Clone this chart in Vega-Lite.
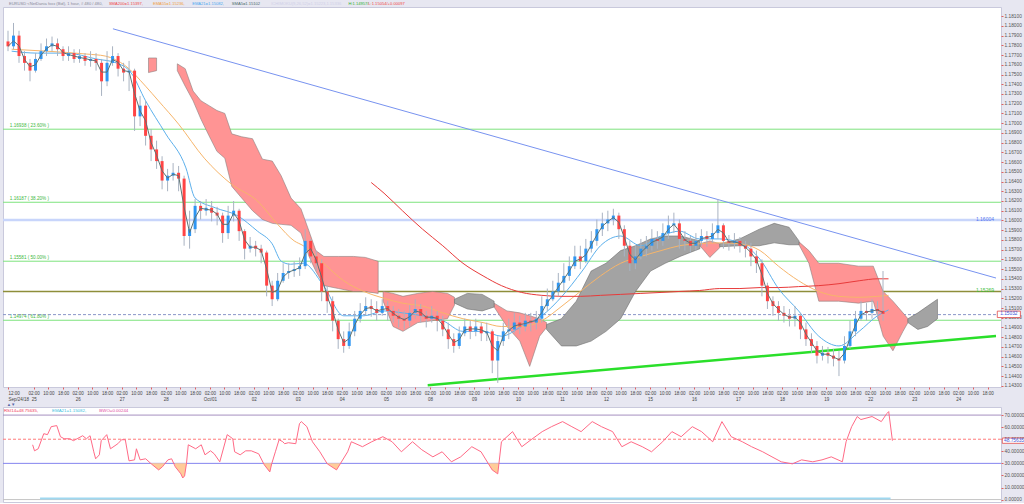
{
"$schema": "https://vega.github.io/schema/vega-lite/v6.json",
"background": "#e7e7f1",
"padding": {"left": 1, "top": 1, "right": 0, "bottom": 0},
"spacing": 0,
"config": {"view": {"fill": "white", "stroke": "#c9c9dc", "strokeWidth": 1}, "font": "Liberation Sans", "axis": {"labelFont": "Liberation Sans", "grid": false, "domain": false, "title": null, "labelOverlap": false, "labelBound": false, "tickCount": 500}},
"datasets": {
"candles": [
{"t":0,"o":1.1784,"h":1.1795,"l":1.1774,"c":1.1779},{"t":3,"o":1.1779,"h":1.1803,"l":1.1776,"c":1.1790},{"t":6,"o":1.1790,"h":1.1795,"l":1.1762,"c":1.1769},{"t":9,"o":1.1769,"h":1.1774,"l":1.1754,"c":1.1762},{"t":12,"o":1.1762,"h":1.1766,"l":1.1743,"c":1.1754},{"t":15,"o":1.1754,"h":1.1772,"l":1.1752,"c":1.1766},{"t":18,"o":1.1766,"h":1.1782,"l":1.1764,"c":1.1774},{"t":21,"o":1.1774,"h":1.1787,"l":1.1769,"c":1.1779},{"t":24,"o":1.1779,"h":1.1789,"l":1.1774,"c":1.1782},{"t":27,"o":1.1782,"h":1.1787,"l":1.1769,"c":1.1776},
{"t":30,"o":1.1776,"h":1.1779,"l":1.1764,"c":1.1769},{"t":33,"o":1.1769,"h":1.1779,"l":1.1764,"c":1.1772},{"t":36,"o":1.1772,"h":1.1776,"l":1.1762,"c":1.1766},{"t":39,"o":1.1766,"h":1.1776,"l":1.1762,"c":1.1769},{"t":42,"o":1.1769,"h":1.1772,"l":1.1759,"c":1.1764},{"t":45,"o":1.1764,"h":1.1774,"l":1.1758,"c":1.1766},{"t":48,"o":1.1766,"h":1.1772,"l":1.1754,"c":1.1762},{"t":51,"o":1.1762,"h":1.1766,"l":1.1728,"c":1.1743},{"t":54,"o":1.1743,"h":1.1774,"l":1.1738,"c":1.1762},{"t":57,"o":1.1762,"h":1.1779,"l":1.1759,"c":1.1769},
{"t":60,"o":1.1769,"h":1.1772,"l":1.1748,"c":1.1756},{"t":63,"o":1.1756,"h":1.1762,"l":1.1743,"c":1.1752},{"t":66,"o":1.1752,"h":1.1764,"l":1.1733,"c":1.1754},{"t":69,"o":1.1754,"h":1.1756,"l":1.1692,"c":1.1707},{"t":72,"o":1.1707,"h":1.1728,"l":1.1697,"c":1.1718},{"t":75,"o":1.1718,"h":1.1723,"l":1.1677,"c":1.1687},{"t":78,"o":1.1687,"h":1.1694,"l":1.1661,"c":1.1673},{"t":81,"o":1.1673,"h":1.1682,"l":1.1653,"c":1.1661},{"t":84,"o":1.1661,"h":1.1666,"l":1.1632,"c":1.1641},{"t":87,"o":1.1641,"h":1.1653,"l":1.1630,"c":1.1646},
{"t":90,"o":1.1646,"h":1.1659,"l":1.1641,"c":1.1649},{"t":93,"o":1.1649,"h":1.1656,"l":1.1630,"c":1.1643},{"t":96,"o":1.1643,"h":1.1646,"l":1.1574,"c":1.1584},{"t":99,"o":1.1584,"h":1.1610,"l":1.1571,"c":1.1591},{"t":102,"o":1.1591,"h":1.1622,"l":1.1587,"c":1.1615},{"t":105,"o":1.1615,"h":1.1620,"l":1.1601,"c":1.1610},{"t":108,"o":1.1610,"h":1.1622,"l":1.1605,"c":1.1613},{"t":111,"o":1.1613,"h":1.1620,"l":1.1599,"c":1.1608},{"t":114,"o":1.1608,"h":1.1614,"l":1.1595,"c":1.1605},{"t":117,"o":1.1605,"h":1.1608,"l":1.1577,"c":1.1587},
{"t":120,"o":1.1587,"h":1.1615,"l":1.1581,"c":1.1605},{"t":123,"o":1.1605,"h":1.1620,"l":1.1599,"c":1.1610},{"t":126,"o":1.1610,"h":1.1612,"l":1.1579,"c":1.1589},{"t":129,"o":1.1589,"h":1.1591,"l":1.1560,"c":1.1571},{"t":132,"o":1.1571,"h":1.1583,"l":1.1567,"c":1.1574},{"t":135,"o":1.1574,"h":1.1579,"l":1.1563,"c":1.1571},{"t":138,"o":1.1571,"h":1.1575,"l":1.1556,"c":1.1567},{"t":141,"o":1.1567,"h":1.1569,"l":1.1522,"c":1.1533},{"t":144,"o":1.1533,"h":1.1538,"l":1.1512,"c":1.1519},{"t":147,"o":1.1519,"h":1.1546,"l":1.1517,"c":1.1538},
{"t":150,"o":1.1538,"h":1.1556,"l":1.1536,"c":1.1546},{"t":153,"o":1.1546,"h":1.1556,"l":1.1540,"c":1.1548},{"t":156,"o":1.1548,"h":1.1558,"l":1.1542,"c":1.1550},{"t":159,"o":1.1550,"h":1.1562,"l":1.1543,"c":1.1553},{"t":162,"o":1.1553,"h":1.1591,"l":1.1550,"c":1.1579},{"t":165,"o":1.1579,"h":1.1581,"l":1.1556,"c":1.1563},{"t":168,"o":1.1563,"h":1.1569,"l":1.1548,"c":1.1556},{"t":171,"o":1.1556,"h":1.1560,"l":1.1517,"c":1.1527},{"t":174,"o":1.1527,"h":1.1533,"l":1.1505,"c":1.1517},{"t":177,"o":1.1517,"h":1.1522,"l":1.1486,"c":1.1497},
{"t":180,"o":1.1497,"h":1.1499,"l":1.1468,"c":1.1478},{"t":183,"o":1.1478,"h":1.1486,"l":1.1464,"c":1.1471},{"t":186,"o":1.1471,"h":1.1495,"l":1.1468,"c":1.1486},{"t":189,"o":1.1486,"h":1.1507,"l":1.1481,"c":1.1499},{"t":192,"o":1.1499,"h":1.1515,"l":1.1495,"c":1.1507},{"t":195,"o":1.1507,"h":1.1521,"l":1.1502,"c":1.1512},{"t":198,"o":1.1512,"h":1.1519,"l":1.1501,"c":1.1509},{"t":201,"o":1.1509,"h":1.1517,"l":1.1497,"c":1.1505},{"t":204,"o":1.1505,"h":1.1519,"l":1.1502,"c":1.1512},{"t":207,"o":1.1512,"h":1.1517,"l":1.1497,"c":1.1507},
{"t":210,"o":1.1507,"h":1.1512,"l":1.1495,"c":1.1502},{"t":213,"o":1.1502,"h":1.1509,"l":1.1490,"c":1.1499},{"t":216,"o":1.1499,"h":1.1507,"l":1.1488,"c":1.1497},{"t":219,"o":1.1497,"h":1.1513,"l":1.1491,"c":1.1505},{"t":222,"o":1.1505,"h":1.1519,"l":1.1499,"c":1.1509},{"t":225,"o":1.1509,"h":1.1514,"l":1.1495,"c":1.1502},{"t":228,"o":1.1502,"h":1.1507,"l":1.1490,"c":1.1499},{"t":231,"o":1.1499,"h":1.1512,"l":1.1495,"c":1.1502},{"t":234,"o":1.1502,"h":1.1507,"l":1.1486,"c":1.1497},{"t":237,"o":1.1497,"h":1.1502,"l":1.1481,"c":1.1488},
{"t":240,"o":1.1488,"h":1.1495,"l":1.1468,"c":1.1478},{"t":243,"o":1.1478,"h":1.1484,"l":1.1464,"c":1.1471},{"t":246,"o":1.1471,"h":1.1491,"l":1.1468,"c":1.1484},{"t":249,"o":1.1484,"h":1.1499,"l":1.1481,"c":1.1491},{"t":252,"o":1.1491,"h":1.1497,"l":1.1478,"c":1.1486},{"t":255,"o":1.1486,"h":1.1499,"l":1.1481,"c":1.1491},{"t":258,"o":1.1491,"h":1.1495,"l":1.1476,"c":1.1484},{"t":261,"o":1.1484,"h":1.1495,"l":1.1476,"c":1.1486},{"t":264,"o":1.1486,"h":1.1488,"l":1.1443,"c":1.1456},{"t":267,"o":1.1456,"h":1.1481,"l":1.1433,"c":1.1476},
{"t":270,"o":1.1476,"h":1.1495,"l":1.1471,"c":1.1486},{"t":273,"o":1.1486,"h":1.1499,"l":1.1478,"c":1.1488},{"t":276,"o":1.1488,"h":1.1505,"l":1.1484,"c":1.1495},{"t":279,"o":1.1495,"h":1.1502,"l":1.1483,"c":1.1491},{"t":282,"o":1.1491,"h":1.1505,"l":1.1486,"c":1.1497},{"t":285,"o":1.1497,"h":1.1505,"l":1.1486,"c":1.1495},{"t":288,"o":1.1495,"h":1.1507,"l":1.1488,"c":1.1499},{"t":291,"o":1.1499,"h":1.1522,"l":1.1495,"c":1.1512},{"t":294,"o":1.1512,"h":1.1530,"l":1.1507,"c":1.1519},{"t":297,"o":1.1519,"h":1.1538,"l":1.1517,"c":1.1527},
{"t":300,"o":1.1527,"h":1.1546,"l":1.1522,"c":1.1536},{"t":303,"o":1.1536,"h":1.1556,"l":1.1527,"c":1.1543},{"t":306,"o":1.1543,"h":1.1563,"l":1.1538,"c":1.1553},{"t":309,"o":1.1553,"h":1.1574,"l":1.1550,"c":1.1563},{"t":312,"o":1.1563,"h":1.1574,"l":1.1550,"c":1.1558},{"t":315,"o":1.1558,"h":1.1581,"l":1.1556,"c":1.1571},{"t":318,"o":1.1571,"h":1.1589,"l":1.1567,"c":1.1579},{"t":321,"o":1.1579,"h":1.1601,"l":1.1574,"c":1.1591},{"t":324,"o":1.1591,"h":1.1608,"l":1.1584,"c":1.1597},{"t":327,"o":1.1597,"h":1.1610,"l":1.1589,"c":1.1601},
{"t":330,"o":1.1601,"h":1.1612,"l":1.1595,"c":1.1605},{"t":333,"o":1.1605,"h":1.1608,"l":1.1581,"c":1.1591},{"t":336,"o":1.1591,"h":1.1595,"l":1.1563,"c":1.1574},{"t":339,"o":1.1574,"h":1.1579,"l":1.1548,"c":1.1556},{"t":342,"o":1.1556,"h":1.1574,"l":1.1550,"c":1.1563},{"t":345,"o":1.1563,"h":1.1581,"l":1.1560,"c":1.1571},{"t":348,"o":1.1571,"h":1.1584,"l":1.1563,"c":1.1574},{"t":351,"o":1.1574,"h":1.1591,"l":1.1569,"c":1.1581},{"t":354,"o":1.1581,"h":1.1589,"l":1.1571,"c":1.1579},{"t":357,"o":1.1579,"h":1.1597,"l":1.1574,"c":1.1587},
{"t":360,"o":1.1587,"h":1.1605,"l":1.1581,"c":1.1595},{"t":363,"o":1.1595,"h":1.1608,"l":1.1587,"c":1.1597},{"t":366,"o":1.1597,"h":1.1601,"l":1.1571,"c":1.1581},{"t":369,"o":1.1581,"h":1.1589,"l":1.1569,"c":1.1579},{"t":372,"o":1.1579,"h":1.1584,"l":1.1567,"c":1.1574},{"t":375,"o":1.1574,"h":1.1587,"l":1.1569,"c":1.1579},{"t":378,"o":1.1579,"h":1.1591,"l":1.1574,"c":1.1584},{"t":381,"o":1.1584,"h":1.1589,"l":1.1573,"c":1.1581},{"t":384,"o":1.1581,"h":1.1597,"l":1.1577,"c":1.1587},{"t":387,"o":1.1587,"h":1.1622,"l":1.1581,"c":1.1595},
{"t":390,"o":1.1595,"h":1.1597,"l":1.1571,"c":1.1579},{"t":393,"o":1.1579,"h":1.1585,"l":1.1569,"c":1.1577},{"t":396,"o":1.1577,"h":1.1587,"l":1.1571,"c":1.1579},{"t":399,"o":1.1579,"h":1.1583,"l":1.1567,"c":1.1574},{"t":402,"o":1.1574,"h":1.1579,"l":1.1562,"c":1.1571},{"t":405,"o":1.1571,"h":1.1577,"l":1.1553,"c":1.1563},{"t":408,"o":1.1563,"h":1.1569,"l":1.1546,"c":1.1556},{"t":411,"o":1.1556,"h":1.1560,"l":1.1522,"c":1.1533},{"t":414,"o":1.1533,"h":1.1536,"l":1.1509,"c":1.1517},{"t":417,"o":1.1517,"h":1.1522,"l":1.1502,"c":1.1512},
{"t":420,"o":1.1512,"h":1.1517,"l":1.1497,"c":1.1505},{"t":423,"o":1.1505,"h":1.1512,"l":1.1495,"c":1.1502},{"t":426,"o":1.1502,"h":1.1509,"l":1.1491,"c":1.1499},{"t":429,"o":1.1499,"h":1.1512,"l":1.1491,"c":1.1502},{"t":432,"o":1.1502,"h":1.1505,"l":1.1478,"c":1.1488},{"t":435,"o":1.1488,"h":1.1495,"l":1.1471,"c":1.1478},{"t":438,"o":1.1478,"h":1.1484,"l":1.1464,"c":1.1471},{"t":441,"o":1.1471,"h":1.1476,"l":1.1453,"c":1.1461},{"t":444,"o":1.1461,"h":1.1471,"l":1.1456,"c":1.1464},{"t":447,"o":1.1464,"h":1.1470,"l":1.1453,"c":1.1461},
{"t":450,"o":1.1461,"h":1.1468,"l":1.1450,"c":1.1458},{"t":453,"o":1.1458,"h":1.1466,"l":1.1440,"c":1.1456},{"t":456,"o":1.1456,"h":1.1481,"l":1.1453,"c":1.1471},{"t":459,"o":1.1471,"h":1.1497,"l":1.1468,"c":1.1486},{"t":462,"o":1.1486,"h":1.1507,"l":1.1481,"c":1.1499},{"t":465,"o":1.1499,"h":1.1517,"l":1.1497,"c":1.1507},{"t":468,"o":1.1507,"h":1.1515,"l":1.1497,"c":1.1505},{"t":471,"o":1.1505,"h":1.1519,"l":1.1499,"c":1.1509},{"t":474,"o":1.1509,"h":1.1517,"l":1.1499,"c":1.1507},{"t":477,"o":1.1507,"h":1.1548,"l":1.1497,"c":1.1504}
],
"ma": [
{"k":"EMA21","t":2,"v":1.1774},{"k":"EMA21","t":16,"v":1.1772},{"k":"EMA21","t":32,"v":1.1772},{"k":"EMA21","t":48,"v":1.1766},{"k":"EMA21","t":59,"v":1.1762},{"k":"EMA21","t":67,"v":1.1752},{"k":"EMA21","t":75,"v":1.1723},{"k":"EMA21","t":86,"v":1.1689},{"k":"EMA21","t":97,"v":1.1654},{"k":"EMA21","t":102,"v":1.1623},{"k":"EMA21","t":113,"v":1.1613},{"k":"EMA21","t":125,"v":1.1605},{"k":"EMA21","t":136,"v":1.1589},{"k":"EMA21","t":144,"v":1.1576},{"k":"EMA21","t":149,"v":1.1558},{"k":"EMA21","t":154,"v":1.1555},{"k":"EMA21","t":161,"v":1.1556},{"k":"EMA21","t":172,"v":1.1533},{"k":"EMA21","t":183,"v":1.1502},{"k":"EMA21","t":194,"v":1.1502},{"k":"EMA21","t":205,"v":1.1507},{"k":"EMA21","t":215,"v":1.1505},{"k":"EMA21","t":226,"v":1.1502},{"k":"EMA21","t":237,"v":1.1497},{"k":"EMA21","t":248,"v":1.1486},{"k":"EMA21","t":259,"v":1.1486},{"k":"EMA21","t":269,"v":1.1481},{"k":"EMA21","t":280,"v":1.1491},{"k":"EMA21","t":291,"v":1.1502},{"k":"EMA21","t":302,"v":1.1522},{"k":"EMA21","t":313,"v":1.1548},{"k":"EMA21","t":323,"v":1.1574},{"k":"EMA21","t":334,"v":1.1584},{"k":"EMA21","t":345,"v":1.1574},{"k":"EMA21","t":356,"v":1.1584},{"k":"EMA21","t":366,"v":1.1589},{"k":"EMA21","t":377,"v":1.1581},{"k":"EMA21","t":388,"v":1.1581},{"k":"EMA21","t":399,"v":1.1577},{"k":"EMA21","t":410,"v":1.1560},{"k":"EMA21","t":420,"v":1.1530},{"k":"EMA21","t":431,"v":1.1507},{"k":"EMA21","t":442,"v":1.1481},{"k":"EMA21","t":453,"v":1.1471},{"k":"EMA21","t":464,"v":1.1486},{"k":"EMA21","t":474,"v":1.1502},{"k":"EMA21","t":480,"v":1.1508},
{"k":"EMA55","t":2,"v":1.1776},{"k":"EMA55","t":21,"v":1.1774},{"k":"EMA55","t":43,"v":1.1771},{"k":"EMA55","t":53,"v":1.1769},{"k":"EMA55","t":64,"v":1.1759},{"k":"EMA55","t":75,"v":1.1738},{"k":"EMA55","t":82,"v":1.1723},{"k":"EMA55","t":93,"v":1.1699},{"k":"EMA55","t":107,"v":1.1664},{"k":"EMA55","t":122,"v":1.1637},{"k":"EMA55","t":136,"v":1.1620},{"k":"EMA55","t":147,"v":1.1596},{"k":"EMA55","t":156,"v":1.1579},{"k":"EMA55","t":161,"v":1.1574},{"k":"EMA55","t":172,"v":1.1556},{"k":"EMA55","t":183,"v":1.1538},{"k":"EMA55","t":194,"v":1.1527},{"k":"EMA55","t":205,"v":1.1520},{"k":"EMA55","t":215,"v":1.1515},{"k":"EMA55","t":226,"v":1.1512},{"k":"EMA55","t":237,"v":1.1505},{"k":"EMA55","t":248,"v":1.1499},{"k":"EMA55","t":259,"v":1.1495},{"k":"EMA55","t":269,"v":1.1491},{"k":"EMA55","t":280,"v":1.1491},{"k":"EMA55","t":291,"v":1.1497},{"k":"EMA55","t":302,"v":1.1512},{"k":"EMA55","t":312,"v":1.1527},{"k":"EMA55","t":323,"v":1.1543},{"k":"EMA55","t":334,"v":1.1556},{"k":"EMA55","t":345,"v":1.1563},{"k":"EMA55","t":356,"v":1.1569},{"k":"EMA55","t":366,"v":1.1574},{"k":"EMA55","t":377,"v":1.1576},{"k":"EMA55","t":388,"v":1.1577},{"k":"EMA55","t":399,"v":1.1576},{"k":"EMA55","t":410,"v":1.1569},{"k":"EMA55","t":420,"v":1.1553},{"k":"EMA55","t":431,"v":1.1538},{"k":"EMA55","t":442,"v":1.1527},{"k":"EMA55","t":453,"v":1.1522},{"k":"EMA55","t":464,"v":1.1521},{"k":"EMA55","t":474,"v":1.1522},{"k":"EMA55","t":480,"v":1.1523},
{"k":"SMA200","t":198,"v":1.1639},{"k":"SMA200","t":205,"v":1.1628},{"k":"SMA200","t":215,"v":1.1610},{"k":"SMA200","t":226,"v":1.1591},{"k":"SMA200","t":237,"v":1.1574},{"k":"SMA200","t":248,"v":1.1556},{"k":"SMA200","t":259,"v":1.1543},{"k":"SMA200","t":269,"v":1.1533},{"k":"SMA200","t":280,"v":1.1526},{"k":"SMA200","t":291,"v":1.1523},{"k":"SMA200","t":302,"v":1.1522},{"k":"SMA200","t":312,"v":1.1522},{"k":"SMA200","t":323,"v":1.1523},{"k":"SMA200","t":334,"v":1.1524},{"k":"SMA200","t":345,"v":1.1525},{"k":"SMA200","t":356,"v":1.1526},{"k":"SMA200","t":366,"v":1.1527},{"k":"SMA200","t":377,"v":1.1528},{"k":"SMA200","t":388,"v":1.1530},{"k":"SMA200","t":399,"v":1.1530},{"k":"SMA200","t":410,"v":1.1531},{"k":"SMA200","t":420,"v":1.1531},{"k":"SMA200","t":431,"v":1.1532},{"k":"SMA200","t":442,"v":1.1533},{"k":"SMA200","t":453,"v":1.1535},{"k":"SMA200","t":464,"v":1.1538},{"k":"SMA200","t":474,"v":1.1540},{"k":"SMA200","t":480,"v":1.1540}
],
"cloud": [
{"g":"R1","t":76.6,"a":1.1767,"b":1.1752},{"g":"R1","t":81,"a":1.1767,"b":1.1754},
{"g":"R2","t":92.3,"a":1.1761,"b":1.1754},{"g":"R2","t":96.6,"a":1.1756,"b":1.1738},{"g":"R2","t":100.9,"a":1.1733,"b":1.1723},{"g":"R2","t":105.2,"a":1.1723,"b":1.1704},{"g":"R2","t":109.6,"a":1.1718,"b":1.1687},{"g":"R2","t":113.9,"a":1.1713,"b":1.1671},{"g":"R2","t":118.2,"a":1.1710,"b":1.1664},{"g":"R2","t":122,"a":1.1689,"b":1.1635},{"g":"R2","t":127.4,"a":1.1686,"b":1.1623},{"g":"R2","t":133.3,"a":1.1684,"b":1.1610},{"g":"R2","t":138.7,"a":1.1663,"b":1.1601},{"g":"R2","t":144.1,"a":1.1661,"b":1.1597},{"g":"R2","t":148.9,"a":1.1646,"b":1.1596},{"g":"R2","t":154.3,"a":1.1623,"b":1.1595},{"g":"R2","t":159.7,"a":1.1612,"b":1.1587},{"g":"R2","t":164.1,"a":1.1589,"b":1.1563},{"g":"R2","t":167.8,"a":1.1569,"b":1.1548},{"g":"R2","t":172.2,"a":1.1563,"b":1.1533},{"g":"R2","t":180.2,"a":1.1563,"b":1.1530},{"g":"R2","t":188.3,"a":1.1563,"b":1.1527},{"g":"R2","t":194.8,"a":1.1562,"b":1.1527},{"g":"R2","t":201.8,"a":1.1558,"b":1.1525},
{"g":"R3","t":204.5,"a":1.1527,"b":1.1517},{"g":"R3","t":209.9,"a":1.1525,"b":1.1491},{"g":"R3","t":215.3,"a":1.1522,"b":1.1486},{"g":"R3","t":223.4,"a":1.1525,"b":1.1495},{"g":"R3","t":231.5,"a":1.1527,"b":1.1497},{"g":"R3","t":239.6,"a":1.1525,"b":1.1499},{"g":"R3","t":243.4,"a":1.1521,"b":1.1513},
{"g":"G1","t":243.4,"a":1.1519,"b":1.1515},{"g":"G1","t":250.4,"a":1.1525,"b":1.1509},{"g":"G1","t":258.5,"a":1.1524,"b":1.1507},{"g":"G1","t":265,"a":1.1517,"b":1.1511},
{"g":"R4","t":265,"a":1.1515,"b":1.1511},{"g":"R4","t":272,"a":1.1507,"b":1.1491},{"g":"R4","t":279,"a":1.1505,"b":1.1476},{"g":"R4","t":284.4,"a":1.1502,"b":1.1450},{"g":"R4","t":289.8,"a":1.1499,"b":1.1481},{"g":"R4","t":293.6,"a":1.1495,"b":1.1490},
{"g":"G2","t":293.6,"a":1.1493,"b":1.1488},{"g":"G2","t":301.7,"a":1.1499,"b":1.1471},{"g":"G2","t":309.8,"a":1.1517,"b":1.1471},{"g":"G2","t":317.9,"a":1.1548,"b":1.1476},{"g":"G2","t":326,"a":1.1556,"b":1.1486},{"g":"G2","t":334,"a":1.1569,"b":1.1499},{"g":"G2","t":342.1,"a":1.1574,"b":1.1527},{"g":"G2","t":350.3,"a":1.1581,"b":1.1548},{"g":"G2","t":358.3,"a":1.1584,"b":1.1556},{"g":"G2","t":366.4,"a":1.1584,"b":1.1563},{"g":"G2","t":377.2,"a":1.1579,"b":1.1571},
{"g":"R5","t":377.2,"a":1.1576,"b":1.1574},{"g":"R5","t":382.6,"a":1.1579,"b":1.1562},{"g":"R5","t":388,"a":1.1576,"b":1.1572},
{"g":"G3","t":388,"a":1.1576,"b":1.1573},{"g":"G3","t":398.8,"a":1.1581,"b":1.1574},{"g":"G3","t":409.6,"a":1.1591,"b":1.1574},{"g":"G3","t":417.7,"a":1.1597,"b":1.1577},{"g":"G3","t":425.8,"a":1.1593,"b":1.1575},{"g":"G3","t":431.2,"a":1.1579,"b":1.1575},
{"g":"R6","t":431.2,"a":1.1578,"b":1.1575},{"g":"R6","t":436.6,"a":1.1569,"b":1.1556},{"g":"R6","t":442,"a":1.1556,"b":1.1517},{"g":"R6","t":452.8,"a":1.1556,"b":1.1517},{"g":"R6","t":463.6,"a":1.1553,"b":1.1515},{"g":"R6","t":471.7,"a":1.1553,"b":1.1517},{"g":"R6","t":477.1,"a":1.1527,"b":1.1481},{"g":"R6","t":482.4,"a":1.1517,"b":1.1466},{"g":"R6","t":487.9,"a":1.1505,"b":1.1486},{"g":"R6","t":490.6,"a":1.1499,"b":1.1495},
{"g":"G4","t":490.6,"a":1.1499,"b":1.1495},{"g":"G4","t":496,"a":1.1505,"b":1.1488},{"g":"G4","t":501.3,"a":1.1512,"b":1.1491},{"g":"G4","t":506.7,"a":1.1519,"b":1.1499}
],
"rsi": [
{"t":16,"r":45.4},{"t":17,"r":40.4},{"t":19,"r":42.1},{"t":22,"r":54.6},{"t":24,"r":53.8},{"t":26,"r":60.4},{"t":29,"r":61.3},{"t":31,"r":52.1},{"t":33,"r":50.4},{"t":36,"r":50.4},{"t":38,"r":48.8},{"t":40,"r":50.4},{"t":43,"r":52.9},{"t":45,"r":50.4},{"t":47,"r":52.9},{"t":49,"r":39.6},{"t":50,"r":33.8},{"t":52,"r":37.1},{"t":53,"r":48.8},{"t":56,"r":53.8},{"t":58,"r":42.1},{"t":62,"r":46.3},{"t":64,"r":49.6},{"t":66,"r":49.6},{"t":68,"r":32.1},{"t":71,"r":32.9},{"t":72,"r":42.1},{"t":74,"r":32.9},{"t":77,"r":33.8},{"t":80,"r":29.6},{"t":84,"r":24.6},{"t":86,"r":27.1},{"t":89,"r":32.9},{"t":91,"r":33.8},{"t":93,"r":27.1},{"t":96,"r":21.3},{"t":97,"r":17.9},{"t":98,"r":19.6},{"t":99,"r":29.6},{"t":100,"r":45.4},{"t":104,"r":42.1},{"t":107,"r":45.4},{"t":109,"r":37.1},{"t":112,"r":40.4},{"t":114,"r":37.9},{"t":117,"r":31.3},{"t":121,"r":53.8},{"t":124,"r":50.4},{"t":125,"r":39.6},{"t":128,"r":37.1},{"t":131,"r":40.4},{"t":134,"r":40.4},{"t":138,"r":37.9},{"t":141,"r":28.8},{"t":144,"r":22.9},{"t":145,"r":29.6},{"t":147,"r":39.6},{"t":149,"r":49.6},{"t":151,"r":47.9},{"t":152,"r":46.3},{"t":154,"r":47.1},{"t":158,"r":46.3},{"t":160,"r":62.9},{"t":161,"r":64.6},{"t":164,"r":60.4},{"t":167,"r":47.9},{"t":171,"r":39.6},{"t":175,"r":29.6},{"t":180,"r":24.6},{"t":186,"r":39.6},{"t":188,"r":47.9},{"t":194,"r":43.8},{"t":199,"r":47.9},{"t":205,"r":52.1},{"t":210,"r":47.9},{"t":215,"r":39.6},{"t":221,"r":47.9},{"t":226,"r":41.3},{"t":232,"r":35.4},{"t":237,"r":39.6},{"t":242,"r":31.3},{"t":247,"r":35.4},{"t":253,"r":43.8},{"t":258,"r":39.6},{"t":264,"r":24.6},{"t":267,"r":21.3},{"t":269,"r":47.9},{"t":275,"r":56.3},{"t":280,"r":43.8},{"t":285,"r":49.6},{"t":291,"r":56.3},{"t":296,"r":60.4},{"t":302,"r":64.6},{"t":307,"r":60.4},{"t":312,"r":56.3},{"t":318,"r":64.6},{"t":323,"r":60.4},{"t":329,"r":56.3},{"t":334,"r":43.8},{"t":339,"r":47.9},{"t":345,"r":43.8},{"t":350,"r":39.6},{"t":356,"r":47.9},{"t":361,"r":56.3},{"t":366,"r":52.1},{"t":372,"r":60.4},{"t":377,"r":56.3},{"t":383,"r":47.9},{"t":388,"r":64.6},{"t":393,"r":52.1},{"t":399,"r":47.9},{"t":404,"r":43.8},{"t":410,"r":39.6},{"t":415,"r":35.4},{"t":420,"r":31.3},{"t":426,"r":29.6},{"t":431,"r":32.9},{"t":437,"r":31.3},{"t":442,"r":32.9},{"t":447,"r":35.4},{"t":453,"r":31.3},{"t":455,"r":47.9},{"t":458,"r":60.4},{"t":461,"r":68.8},{"t":463,"r":66.3},{"t":469,"r":68.8},{"t":474,"r":64.6},{"t":477,"r":71.3},{"t":478,"r":72.9},{"t":480,"r":48.8}
],
"rsilow": [
{"s":1,"t":79.6,"r":30},{"s":1,"t":80,"r":29.6},{"s":1,"t":84,"r":24.6},{"s":1,"t":86,"r":27.1},{"s":1,"t":87.3,"r":30},
{"s":2,"t":92.7,"r":30},{"s":2,"t":93,"r":27.1},{"s":2,"t":96,"r":21.3},{"s":2,"t":97,"r":17.9},{"s":2,"t":98,"r":19.6},{"s":2,"t":99,"r":29.6},{"s":2,"t":99.1,"r":30},
{"s":3,"t":140.6,"r":30},{"s":3,"t":141,"r":28.8},{"s":3,"t":144,"r":22.9},{"s":3,"t":145,"r":29.6},{"s":3,"t":145.1,"r":30},
{"s":4,"t":174.8,"r":30},{"s":4,"t":175,"r":29.6},{"s":4,"t":180,"r":24.6},{"s":4,"t":182.2,"r":30},
{"s":5,"t":261.8,"r":30},{"s":5,"t":264,"r":24.6},{"s":5,"t":267,"r":21.3},{"s":5,"t":267.7,"r":30}
]
},
"vconcat": [
{
"width": 998, "height": 380,
"resolve": {"scale": {"color": "independent", "strokeWidth": "independent"}},
"layer": [
{"data": {"values": [{"v":1.16938},{"v":1.16187},{"v":1.15581},{"v":1.14974}]}, "mark": {"type":"rule","color":"#7de37d","strokeWidth":1},
 "encoding": {"y": {"field":"v","type":"quantitative","title":null,"scale":{"domain":[1.14288,1.18194]},"axis":{"orient":"right","title":null,"values":[1.143,1.144,1.145,1.146,1.147,1.148,1.149,1.150,1.151,1.152,1.153,1.154,1.155,1.156,1.157,1.158,1.159,1.160,1.161,1.162,1.163,1.164,1.165,1.166,1.167,1.168,1.169,1.170,1.171,1.172,1.173,1.174,1.175,1.176,1.177,1.178,1.179,1.180,1.181],"tickCount":500,"format":".5f","labelFontSize":4.8,"labelColor":"#555","tickSize":2,"tickColor":"#e06060","labelPadding":1,"labelOverlap":false,"domain":false,"grid":false}}}},
{"data": {"values": [{"t":1,"v":1.16938,"s":"1.16938 ( 23.60% )"},{"t":1,"v":1.16187,"s":"1.16187 ( 38.20% )"},{"t":1,"v":1.15581,"s":"1.15581 ( 50.00% )"},{"t":1,"v":1.14974,"s":"1.14974 ( 61.80% )"}]}, "mark": {"type":"text","align":"left","baseline":"bottom","dy":-1,"fontSize":4.6,"color":"#3cb83c"},
 "encoding": {"x": {"field":"t","type":"quantitative","title":null,"scale":{"domain":[0,538.6]}}, "y": {"field":"v","type":"quantitative","title":null,"scale":{"domain":[1.14288,1.18194]}}, "text": {"field":"s"}}},
{"data": {"values": [{"v":1.16004}]}, "mark": {"type":"rule","color":"#c8d5fb","strokeWidth":2.5}, "encoding": {"y": {"field":"v","type":"quantitative","title":null,"scale":{"domain":[1.14288,1.18194]}}}},
{"data": {"values": [{"v":1.15269}]}, "mark": {"type":"rule","color":"#8e8e3a","strokeWidth":1.5}, "encoding": {"y": {"field":"v","type":"quantitative","title":null,"scale":{"domain":[1.14288,1.18194]}}}},
{"data": {"values": [{"v":1.15032}]}, "mark": {"type":"rule","color":"#8a96c8","strokeWidth":1,"strokeDash":[3,2]}, "encoding": {"y": {"field":"v","type":"quantitative","title":null,"scale":{"domain":[1.14288,1.18194]}}}},
{"data": {"values": [{"t":537.5,"v":1.16004,"s":"1.16004","k":"b"},{"t":537.5,"v":1.15269,"s":"1.15269","k":"g"}]}, "mark": {"type":"text","align":"right","baseline":"bottom","dy":1.5,"fontSize":5},
 "encoding": {"x": {"field":"t","type":"quantitative","title":null,"scale":{"domain":[0,538.6]}}, "y": {"field":"v","type":"quantitative","title":null,"scale":{"domain":[1.14288,1.18194]}}, "text": {"field":"s"}, "color": {"field":"k","type":"nominal","scale":{"domain":["b","g"],"range":["#5a78f0","#3cc03c"]},"legend":null}}},
{"data": {"name":"cloud"}, "transform": [{"filter":"indexof(datum.g,'R')==0"}], "mark": {"type":"area","color":"#ff9494","opacity":1,"stroke":"#8a7f7f","strokeWidth":0.6},
 "encoding": {"x": {"field":"t","type":"quantitative","title":null,"scale":{"domain":[0,538.6]}}, "y": {"field":"a","type":"quantitative","title":null,"scale":{"domain":[1.14288,1.18194]}}, "y2": {"field":"b"}, "detail": {"field":"g"}}},
{"data": {"name":"cloud"}, "transform": [{"filter":"indexof(datum.g,'G')==0"}], "mark": {"type":"area","color":"#a3a3a3","opacity":1,"stroke":"#6f6f6f","strokeWidth":0.6},
 "encoding": {"x": {"field":"t","type":"quantitative","title":null,"scale":{"domain":[0,538.6]}}, "y": {"field":"a","type":"quantitative","title":null,"scale":{"domain":[1.14288,1.18194]}}, "y2": {"field":"b"}, "detail": {"field":"g"}}},
{"data": {"values": [{"t":57.2,"v":1.1797},{"t":538.6,"v":1.15408}]}, "mark": {"type":"line","color":"#7893f0","strokeWidth":1,"clip":true},
 "encoding": {"x": {"field":"t","type":"quantitative","title":null,"scale":{"domain":[0,538.6]}}, "y": {"field":"v","type":"quantitative","title":null,"scale":{"domain":[1.14288,1.18194]}}}},
{"data": {"values": [{"t":228.8,"v":1.14307},{"t":538.6,"v":1.14812}]}, "mark": {"type":"line","color":"#2adf2a","strokeWidth":2.5,"clip":true},
 "encoding": {"x": {"field":"t","type":"quantitative","title":null,"scale":{"domain":[0,538.6]}}, "y": {"field":"v","type":"quantitative","title":null,"scale":{"domain":[1.14288,1.18194]}}}},
{"data": {"name":"ma"}, "mark": {"type":"line","interpolate":"monotone"},
 "encoding": {"x": {"field":"t","type":"quantitative","title":null,"scale":{"domain":[0,538.6]}}, "y": {"field":"v","type":"quantitative","title":null,"scale":{"domain":[1.14288,1.18194]}}, "color": {"field":"k","type":"nominal","scale":{"domain":["EMA55","EMA21","SMA200"],"range":["#f7b56a","#5cb0ec","#e83a3a"]},"legend":null}, "strokeWidth": {"field":"k","type":"nominal","scale":{"domain":["EMA55","EMA21","SMA200"],"range":[1,1,1.5]},"legend":null}}},
{"data": {"name":"candles"}, "mark": {"type":"rule","color":"#a9b3c2","strokeWidth":1},
 "encoding": {"x": {"field":"t","type":"quantitative","title":null,"scale":{"domain":[0,538.6]},"axis":{"orient":"bottom","title":null,"values":[0,14,22,30,38,46,54,62,70,78,86,94,102,110,118,126,134,142,150,158,166,174,182,190,198,206,214,222,230,238,246,254,262,270,278,286,294,302,310,318,326,334,342,350,358,366,374,382,390,398,406,414,422,430,438,446,454,462,470,478,486,494,502,510,518,526,534],"tickCount":500,"labelExpr":"[(((datum.value+12)%24)<10?'0':'')+((datum.value+12)%24)+':00', datum.value==0?'Sep/24/18':(((datum.value+12)%24)==2?['','25','26','27','28','Oct/01','02','03','04','05','08','09','10','11','12','15','16','17','18','19','22','23','24'][floor((datum.value+12)/24)]:'')]","labelAlign":{"condition":{"test":"datum.value == 0","value":"left"},"value":"center"},"labelFontSize":4.5,"labelLineHeight":6,"labelColor":"#444","labelOverlap":false,"labelFlush":false,"tickSize":2,"tickColor":"#e06060","labelPadding":1,"domain":false,"grid":false}}, "y": {"field":"l","type":"quantitative","title":null,"scale":{"domain":[1.14288,1.18194]}}, "y2": {"field":"h"}}},
{"data": {"name":"candles"}, "mark": {"type":"bar","size":3},
 "encoding": {"x": {"field":"t","type":"quantitative","title":null,"scale":{"domain":[0,538.6]}}, "y": {"field":"o","type":"quantitative","title":null,"scale":{"domain":[1.14288,1.18194]}}, "y2": {"field":"c"}, "color": {"condition": {"test":"datum.c >= datum.o","value":"#2f96f2"},"value":"#ff4444"}}},
{"data": {"name":"candles"}, "transform": [{"window":[{"op":"mean","field":"c","as":"sma"}],"frame":[-1,0],"sort":[{"field":"t"}]}], "mark": {"type":"line","color":"#5d7373","strokeWidth":1},
 "encoding": {"x": {"field":"t","type":"quantitative","title":null,"scale":{"domain":[0,538.6]}}, "y": {"field":"sma","type":"quantitative","title":null,"scale":{"domain":[1.14288,1.18194]}}}},
{"data": {"values": [{"t":0.5,"v":1.18222,"s":"EURUSD <NetDania fxxx (Bid), 1 hour, # 480 / 480,","k":"a"},{"t":55,"v":1.18222,"s":"SMA200=1.15397,","k":"b"},{"t":79,"v":1.18222,"s":"EMA55=1.15236,","k":"c"},{"t":100.4,"v":1.18222,"s":"EMA21=1.15082,","k":"d"},{"t":122,"v":1.18222,"s":"SMA5=1.15102","k":"e"},{"t":143.5,"v":1.18222,"s":"ICHIMOKU(9,26,52)=1.15223,1.15336","k":"f"},{"t":185.6,"v":1.18222,"s":"H:1.14957/","k":"g"},{"t":196.4,"v":1.18222,"s":"L:1.15054/+0.00097","k":"b"}]},
 "mark": {"type":"text","align":"left","baseline":"middle","fontSize":4.1},
 "encoding": {"x": {"field":"t","type":"quantitative","title":null,"scale":{"domain":[0,538.6]}}, "y": {"field":"v","type":"quantitative","title":null,"scale":{"domain":[1.14288,1.18194]}}, "text": {"field":"s"}, "color": {"field":"k","type":"nominal","scale":{"domain":["a","b","c","d","e","f","g"],"range":["#8a8a9a","#f04848","#f0a040","#4aa8f0","#4a6a6a","#d0d0e8","#30b030"]},"legend":null}}},
{"data": {"values": [{"t1":539.3,"t2":551.9,"v1":1.15002,"v2":1.15068}]}, "mark": {"type":"rect","fill":"white","stroke":"#e04848","strokeWidth":0.8},
 "encoding": {"x": {"field":"t1","type":"quantitative","title":null,"scale":{"domain":[0,538.6]}}, "x2": {"field":"t2"}, "y": {"field":"v1","type":"quantitative","title":null,"scale":{"domain":[1.14288,1.18194]}}, "y2": {"field":"v2"}}},
{"data": {"values": [{"t":545.6,"v":1.15035,"s":"1.15032"}]}, "mark": {"type":"text","align":"center","baseline":"middle","fontSize":4.8,"color":"#3a56d8"},
 "encoding": {"x": {"field":"t","type":"quantitative","title":null,"scale":{"domain":[0,538.6]}}, "y": {"field":"v","type":"quantitative","title":null,"scale":{"domain":[1.14288,1.18194]}}, "text": {"field":"s"}}}
]
},
{
"width": 998, "height": 95,
"resolve": {"scale": {"color": "independent"}},
"layer": [
{"data": {"values": [{"r":70,"k":"a"},{"r":30,"k":"b"},{"r":0,"k":"c"}]}, "mark": {"type":"rule","strokeWidth":1},
 "encoding": {"y": {"field":"r","type":"quantitative","title":null,"scale":{"domain":[-2,76.7]},"axis":{"orient":"right","title":null,"values":[0,10,20,30,40,50,60,70],"tickCount":500,"format":".5f","labelFontSize":4.8,"labelColor":"#555","tickSize":2,"tickColor":"#e06060","labelPadding":1,"labelOverlap":false,"domain":false,"grid":false}}, "color": {"field":"k","type":"nominal","scale":{"domain":["a","b","c"],"range":["#a58fbf","#8585ef","#c4c4c4"]},"legend":null}}},
{"data": {"values": [{"r":50}]}, "mark": {"type":"rule","color":"#ff7a7a","strokeWidth":1,"strokeDash":[3,2]}, "encoding": {"y": {"field":"r","type":"quantitative","title":null,"scale":{"domain":[-2,76.7]}}}},
{"data": {"name":"rsilow"}, "mark": {"type":"area","color":"#ffcc99","opacity":1},
 "encoding": {"x": {"field":"t","type":"quantitative","title":null,"scale":{"domain":[0,538.6]},"axis":null}, "y": {"field":"r","type":"quantitative","title":null,"scale":{"domain":[-2,76.7]}}, "y2": {"datum":30}, "detail": {"field":"s"}}},
{"data": {"values": [{"t":20,"r":0.9},{"t":479,"r":0.9}]}, "mark": {"type":"line","color":"#9fd8f0","strokeWidth":2},
 "encoding": {"x": {"field":"t","type":"quantitative","title":null,"scale":{"domain":[0,538.6]},"axis":null}, "y": {"field":"r","type":"quantitative","title":null,"scale":{"domain":[-2,76.7]}}}},
{"data": {"name":"rsi"}, "mark": {"type":"line","color":"#ff6a86","strokeWidth":1},
 "encoding": {"x": {"field":"t","type":"quantitative","title":null,"scale":{"domain":[0,538.6]},"axis":null}, "y": {"field":"r","type":"quantitative","title":null,"scale":{"domain":[-2,76.7]}}}},
{"data": {"values": [{"t":0.5,"r":73.2,"s":"RSI14=48.75635,","k":"a"},{"t":26.5,"r":73.2,"s":"EMA21=1.15082,","k":"b"},{"t":52,"r":73.2,"s":"BWO=0.00244","k":"c"},{"t":2,"r":78.6,"s":"▲▼","k":"d"}]},
 "mark": {"type":"text","align":"left","baseline":"middle","fontSize":4.4},
 "encoding": {"x": {"field":"t","type":"quantitative","title":null,"scale":{"domain":[0,538.6]},"axis":null}, "y": {"field":"r","type":"quantitative","title":null,"scale":{"domain":[-2,76.7]}}, "text": {"field":"s"}, "color": {"field":"k","type":"nominal","scale":{"domain":["a","b","c","d"],"range":["#f03c5a","#3cc0e0","#e04aa0","#5868a8"]},"legend":null}}},
{"data": {"values": [{"t1":539.3,"t2":551.9,"r1":46.6,"r2":51}]}, "mark": {"type":"rect","fill":"white","stroke":"#e04848","strokeWidth":0.8},
 "encoding": {"x": {"field":"t1","type":"quantitative","title":null,"scale":{"domain":[0,538.6]},"axis":null}, "x2": {"field":"t2"}, "y": {"field":"r1","type":"quantitative","title":null,"scale":{"domain":[-2,76.7]}}, "y2": {"field":"r2"}}},
{"data": {"values": [{"t":545.6,"r":48.8,"s":"48.75635"}]}, "mark": {"type":"text","align":"center","baseline":"middle","fontSize":4.8,"color":"#3a56d8"},
 "encoding": {"x": {"field":"t","type":"quantitative","title":null,"scale":{"domain":[0,538.6]},"axis":null}, "y": {"field":"r","type":"quantitative","title":null,"scale":{"domain":[-2,76.7]}}, "text": {"field":"s"}}}
]
}
]
}
